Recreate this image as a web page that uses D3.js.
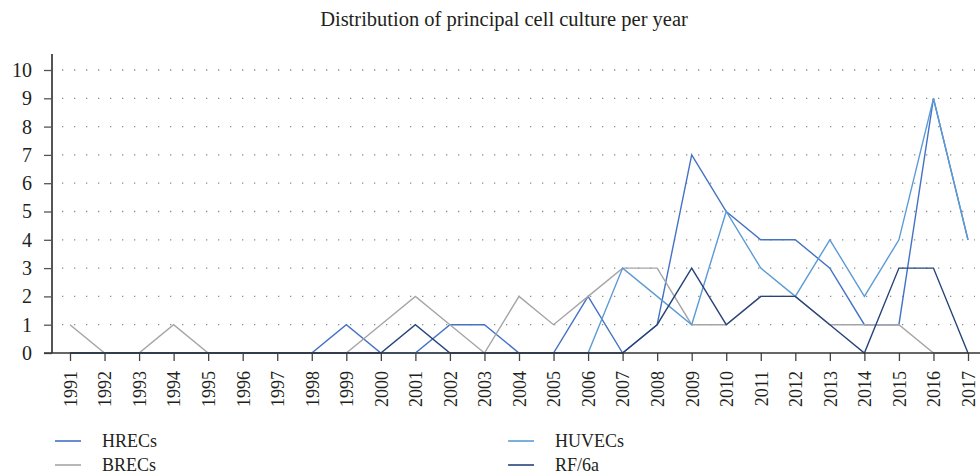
<!DOCTYPE html>
<html lang="en">
	<head>
		<meta charset="utf-8">
		<title>Distribution of principal cell culture per year</title>
		<script type="text/javascript" src="https://cdn.jsdelivr.net/npm/d3@7"></script>
		<style type="text/css">
			body { margin: 0; background: #fff; }
			text { font-family: "Liberation Serif", "Times New Roman", serif; fill: #231f20; }
		</style>
	</head>
	<body>
		<script type="text/javascript">

			//Size
			var w = 980;
			var h = 476;

			//Data
			var years = d3.range(1991, 2018).map(String);
			var yTicks = [0, 1, 2, 3, 4, 5, 6, 7, 8, 9, 10];
			var seriesNames = ["HRECs", "BRECs", "HUVECs", "RF/6a"];
			var hrecs  = [0,0,0,0,0,0,0,0,1,0,0,1,1,0,0,2,0,1,7,5,4,4,3,1,1,9,4];
			var brecs  = [1,0,0,1,0,0,0,0,0,1,2,1,0,2,1,2,3,3,1,1,2,2,1,1,1,0,0];
			var huvecs = [0,0,0,0,0,0,0,0,0,0,0,0,0,0,0,0,3,2,1,5,3,2,4,2,4,9,4];
			var rf6a   = [0,0,0,0,0,0,0,0,0,0,1,0,0,0,0,0,0,1,3,1,2,2,1,0,3,3,0];
			var colors = ["#4472c4", "#a5a5a5", "#5b9bd5", "#264478"];

			var seriesValues = [hrecs, brecs, huvecs, rf6a];

			//Scales
			var xScale = d3.scalePoint()
							.domain(years)
							.range([70, 968]);

			var yScale = d3.scaleLinear()
							.domain([0, 10])
							.range([353, 70]);

			var svg = d3.select("body")
						.append("svg")
						.attr("width", w)
						.attr("height", h);

			//Title
			svg.append("text")
			   .attr("x", 504)
			   .attr("y", 26)
			   .attr("text-anchor", "middle")
			   .attr("font-size", "20.5px")
			   .text("Distribution of principal cell culture per year");

			//Dotted grid
			svg.append("g")
			   .selectAll("line")
			   .data(yTicks.slice(1))
			   .enter()
			   .append("line")
			   .attr("x1", 62)
			   .attr("x2", 975)
			   .attr("y1", function(d) { return yScale(d); })
			   .attr("y2", function(d) { return yScale(d); })
			   .attr("stroke", "#8c8c8c")
			   .attr("stroke-width", 1.3)
			   .attr("stroke-dasharray", "1.3,10.7");

			//Y axis
			var yAxis = d3.axisLeft(yScale)
						  .tickValues(yTicks)
						  .tickSize(8)
						  .tickPadding(12)
						  .tickFormat(d3.format("d"));

			var gy = svg.append("g")
						.attr("transform", "translate(52,0)")
						.call(yAxis);
			gy.select(".domain").remove();
			gy.selectAll(".tick line").attr("stroke", "#555").attr("stroke-width", 1.3);
			gy.selectAll(".tick text")
			  .attr("font-size", "20px")
			  .attr("font-family", "Liberation Serif, serif")
			  .attr("fill", "#231f20");
			gy.append("line")
			  .attr("x1", 0).attr("x2", 0)
			  .attr("y1", 54).attr("y2", yScale(0))
			  .attr("stroke", "#555")
			  .attr("stroke-width", 2);

			//X axis
			var xAxis = d3.axisBottom(xScale)
						  .tickSize(8)
						  .tickSizeOuter(0);

			var gx = svg.append("g")
						.attr("transform", "translate(0," + yScale(0) + ")")
						.call(xAxis);
			gx.select(".domain").remove();
			gx.selectAll(".tick line").attr("stroke", "#444").attr("stroke-width", 1.3);
			gx.selectAll(".tick text")
			  .attr("font-size", "18px")
			  .attr("font-family", "Liberation Serif, serif")
			  .attr("fill", "#231f20")
			  .attr("text-anchor", "end")
			  .attr("dy", "0.35em")
			  .attr("transform", "rotate(-90)")
			  .attr("x", -18)
			  .attr("y", 0);

			//Lines
			var line = d3.line()
						 .x(function(d, i) { return xScale(years[i]); })
						 .y(function(d) { return yScale(d); });

			svg.append("g")
			   .selectAll("path")
			   .data(seriesValues)
			   .enter()
			   .append("path")
			   .attr("d", line)
			   .attr("fill", "none")
			   .attr("stroke", function(d, i) { return colors[i]; })
			   .attr("stroke-width", 1.4)
			   .attr("stroke-linejoin", "miter");

			//Baseline drawn over the lines
			svg.append("line")
			   .attr("x1", 44).attr("x2", 980)
			   .attr("y1", yScale(0)).attr("y2", yScale(0))
			   .attr("stroke", "#333")
			   .attr("stroke-width", 1.4);

			//Legend
			var legendPos = [[55, 441], [55, 465], [508, 441], [508, 465]];
			var legend = svg.append("g")
							.selectAll("g")
							.data(seriesNames)
							.enter()
							.append("g")
							.attr("transform", function(d, i) {
								return "translate(" + legendPos[i][0] + "," + legendPos[i][1] + ")";
							});

			legend.append("line")
				  .attr("x1", 0).attr("x2", 26)
				  .attr("stroke", function(d, i) { return colors[i]; })
				  .attr("stroke-width", 1.6);

			legend.append("text")
				  .attr("x", 47)
				  .attr("dy", "0.35em")
				  .attr("font-size", "18px")
				  .text(function(d) { return d; });

		</script>
	</body>
</html>
